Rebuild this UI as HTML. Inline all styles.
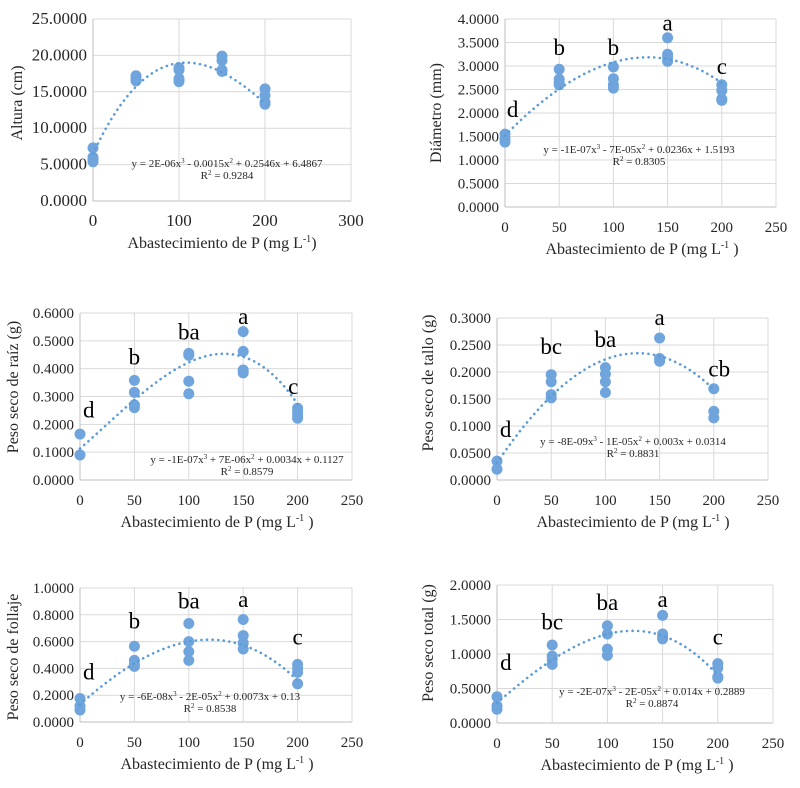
<!DOCTYPE html>
<html><head><meta charset="utf-8">
<style>
html,body{margin:0;padding:0;background:#fff;}
svg, svg text{font-family:"Liberation Serif","Times New Roman",serif;}
</style></head>
<body>
<svg id="fig" width="800" height="783" viewBox="0 0 800 783" font-family="Liberation Serif, serif" xmlns="http://www.w3.org/2000/svg"></svg>
<script>
// ---- data arrays ----
const xCategories = [0, 50, 100, 150, 200];
const alturaValues = [[7.3,6.0,5.7,5.4],[17.2,16.8,16.5],[18.3,18.0,16.8,16.4],[19.9,19.3,18.0,17.8],[15.4,14.5,13.6,13.3]];
const diametroValues = [[1.55,1.45,1.38],[2.93,2.72,2.65,2.6],[2.98,2.73,2.6,2.53],[3.6,3.25,3.18,3.1],[2.6,2.48,2.3,2.27]];
const raizValues = [[0.165,0.09],[0.358,0.315,0.27,0.26],[0.455,0.448,0.355,0.31],[0.533,0.462,0.395,0.385],[0.258,0.245,0.232,0.222]];
const talloValues = [[0.035,0.02],[0.195,0.182,0.158,0.152],[0.208,0.196,0.182,0.162],[0.263,0.225,0.22],[0.169,0.127,0.115]];
const follajeValues = [[0.175,0.12,0.09],[0.565,0.46,0.43,0.415],[0.735,0.6,0.525,0.46],[0.765,0.645,0.59,0.545],[0.43,0.4,0.37,0.285]];
const totalValues = [[0.38,0.25,0.2],[1.13,0.97,0.92,0.85],[1.41,1.29,1.07,0.98],[1.56,1.29,1.25,1.22],[0.86,0.8,0.67,0.65]];

const alturaCoef = [6.4867, 0.2546, -0.0015, 2e-6];
const diametroCoef = [1.5193, 0.0236, -7e-5, -1e-7];
const raizCoef = [0.1127, 0.0034, 7e-6, -1e-7];
const talloCoef = [0.0314, 0.003, -1e-5, -8e-9];
const follajeCoef = [0.13, 0.0073, -2e-5, -6e-8];
const totalCoef = [0.2889, 0.014, -2e-5, -2e-7];

const diametroLetters = ["d","b","b","a","c"];
const diametroLetterX = [7,50,100,150,200];
const diametroLetterY = [2.06,3.38,3.38,3.9,2.98];
const raizLetters = ["d","b","ba","a","c"];
const raizLetterX = [8,50,100,150,196];
const raizLetterY = [0.25,0.44,0.53,0.585,0.335];
const talloLetters = ["d","bc","ba","a","cb"];
const talloLetterX = [8,50,100,150,205];
const talloLetterY = [0.093,0.246,0.259,0.3,0.205];
const follajeLetters = ["d","b","ba","a","c"];
const follajeLetterX = [8,50,100,150,200];
const follajeLetterY = [0.37,0.75,0.9,0.91,0.63];
const totalLetters = ["d","bc","ba","a","c"];
const totalLetterX = [8,50,100,150,200];
const totalLetterY = [0.87,1.46,1.74,1.78,1.24];

const xTicks300 = [0,100,200,300];
const xTicks250 = [0,50,100,150,200,250];
const alturaTicks = [0,5,10,15,20,25];
const diametroTicks = [0,0.5,1,1.5,2,2.5,3,3.5,4];
const raizTicks = [0,0.1,0.2,0.3,0.4,0.5,0.6];
const talloTicks = [0,0.05,0.1,0.15,0.2,0.25,0.3];
const follajeTicks = [0,0.2,0.4,0.6,0.8,1.0];
const totalTicks = [0,0.5,1.0,1.5,2.0];

const NS = "http://www.w3.org/2000/svg";
const FF = "Liberation Serif, serif";
const svg = document.getElementById("fig");
function el(tag, attrs, parent){const e=document.createElementNS(NS,tag);for(const k in attrs)e.setAttribute(k,attrs[k]);if(tag==="text")e.setAttribute("font-family",FF);(parent||svg).appendChild(e);return e;}

function panel(cfg){
  const g = el("g",{});
  
  
  const sx = v => cfg.x0 + v / cfg.xmax * (cfg.x1 - cfg.x0);
  const sy = v => cfg.y0 - v / cfg.ymax * (cfg.y0 - cfg.y1);
  cfg.yTicks.forEach(t=>{
    const l = el("line",{x1:cfg.x0,x2:cfg.x1,y1:sy(t),y2:sy(t),stroke:t===0?"#bfbfbf":"#d9d9d9","stroke-width":1},g);
    
    
    const tx = el("text",{x:cfg.x0-6,y:sy(t)+5,"text-anchor":"end","font-size":cfg.fs,fill:"#262626"},g);
    tx.textContent = t.toFixed(4);
    
    
  });
  cfg.xTicks.forEach(t=>{
    const l = el("line",{x1:sx(t),x2:sx(t),y1:cfg.y1,y2:cfg.y0,stroke:t===0?"#bfbfbf":"#d9d9d9","stroke-width":1},g);
    
    
    const tx = el("text",{x:sx(t),y:cfg.y0+25,"text-anchor":"middle","font-size":cfg.fs,fill:"#262626"},g);
    tx.textContent = t;
    
    
  });
  const yt = el("text",{x:0,y:0,"text-anchor":"middle","font-size":16,fill:"#262626",transform:`translate(${cfg.ytx},${cfg.yty}) rotate(-90)`},g);
  yt.textContent = cfg.ytitle;
  
  
  const xt = el("text",{x:cfg.xtx,y:cfg.y0+47,"text-anchor":"middle","font-size":16,fill:"#262626"},g);
  xt.innerHTML = 'Abastecimiento de P (mg L<tspan dy="-6" font-size="10">-1</tspan><tspan dy="6">'+cfg.xtEnd+'</tspan>';
  
  
  cfg.values.forEach((arr,i)=>{
    arr.forEach(v=>{
      const c = el("circle",{cx:sx(xCategories[i]),cy:sy(v),r:5.5,fill:"#6fa5dc"},g);
      
      
    });
  });
  let d="";
  for(let x=0;x<=200;x+=2){
    const c=cfg.coef; const y=c[0]+c[1]*x+c[2]*x*x+c[3]*x*x*x;
    d += (x===0?"M":"L")+sx(x).toFixed(1)+","+sy(y).toFixed(1);
  }
  const p = el("path",{d:d,fill:"none",stroke:"#5b9bd5","stroke-width":2.6,"stroke-dasharray":"0.1 5.5","stroke-linecap":"round"},g);
  
  
  const eq = el("text",{x:cfg.eqx,y:cfg.eqy,"text-anchor":"middle","font-size":11,fill:"#262626"},g);
  eq.innerHTML = cfg.eq;
  
  
  const r2 = el("text",{x:cfg.eqx,y:cfg.eqy+12,"text-anchor":"middle","font-size":11,fill:"#262626"},g);
  r2.innerHTML = 'R<tspan dy="-4" font-size="7">2</tspan><tspan dy="4"> = '+cfg.r2+'</tspan>';
  
  
  if(cfg.letters){
    cfg.letters.forEach((L,i)=>{
      const t = el("text",{x:sx(cfg.lx[i]),y:sy(cfg.ly[i])+7,"text-anchor":"middle","font-size":23,fill:"#000"},g);
      t.textContent = L;
      
      
    });
  }
}
const sup3='<tspan dy="-4" font-size="7">3</tspan><tspan dy="4">';
const sup2='<tspan dy="-4" font-size="7">2</tspan><tspan dy="4">';
function eqs(a,b,c,d){return 'y = '+a+'x'+sup3+' '+b+'x'+'</tspan>'+sup2+' '+c+'x + '+d+'</tspan>';}

panel({name:"altura-chart",x0:93,x1:351,xmax:300,y0:201,y1:19,ymax:25,fs:17,yTicks:alturaTicks,xTicks:xTicks300,values:alturaValues,coef:alturaCoef,ytitle:"Altura (cm)",ytx:22,yty:103,xtx:222,xtEnd:")",eqx:227,eqy:167,eq:eqs("2E-06","- 0.0015","+ 0.2546","6.4867"),r2:"0.9284"});
panel({name:"diametro-chart",x0:505,x1:776,xmax:250,y0:207,y1:19,ymax:4,fs:15,yTicks:diametroTicks,xTicks:xTicks250,values:diametroValues,coef:diametroCoef,ytitle:"Diámetro (mm)",ytx:441,yty:113,xtx:642,xtEnd:" )",eqx:639,eqy:153,eq:eqs("-1E-07","- 7E-05","+ 0.0236","1.5193"),r2:"0.8305",letters:diametroLetters,lx:diametroLetterX,ly:diametroLetterY});
panel({name:"raiz-chart",x0:80,x1:352,xmax:250,y0:480,y1:313,ymax:0.6,fs:15,yTicks:raizTicks,xTicks:xTicks250,values:raizValues,coef:raizCoef,ytitle:"Peso seco de raíz (g)",ytx:18,yty:387,xtx:217,xtEnd:" )",eqx:247,eqy:463,eq:eqs("-1E-07","+ 7E-06","+ 0.0034","0.1127"),r2:"0.8579",letters:raizLetters,lx:raizLetterX,ly:raizLetterY});
panel({name:"tallo-chart",x0:497,x1:768,xmax:250,y0:480,y1:318,ymax:0.3,fs:15,yTicks:talloTicks,xTicks:xTicks250,values:talloValues,coef:talloCoef,ytitle:"Peso seco de tallo (g)",ytx:433,yty:383,xtx:633,xtEnd:" )",eqx:633,eqy:445,eq:eqs("-8E-09","- 1E-05","+ 0.003","0.0314"),r2:"0.8831",letters:talloLetters,lx:talloLetterX,ly:talloLetterY});
panel({name:"follaje-chart",x0:80,x1:352,xmax:250,y0:722,y1:588,ymax:1.0,fs:15,yTicks:follajeTicks,xTicks:xTicks250,values:follajeValues,coef:follajeCoef,ytitle:"Peso seco de follaje",ytx:18,yty:657,xtx:217,xtEnd:" )",eqx:210,eqy:700,eq:eqs("-6E-08","- 2E-05","+ 0.0073","0.13"),r2:"0.8538",letters:follajeLetters,lx:follajeLetterX,ly:follajeLetterY});
panel({name:"total-chart",x0:497,x1:773,xmax:250,y0:723,y1:585,ymax:2.0,fs:15,yTicks:totalTicks,xTicks:xTicks250,values:totalValues,coef:totalCoef,ytitle:"Peso seco total (g)",ytx:433,yty:643,xtx:637,xtEnd:" )",eqx:652,eqy:695,eq:eqs("-2E-07","- 2E-05","+ 0.014","0.2889"),r2:"0.8874",letters:totalLetters,lx:totalLetterX,ly:totalLetterY});
</script>
</body></html>
